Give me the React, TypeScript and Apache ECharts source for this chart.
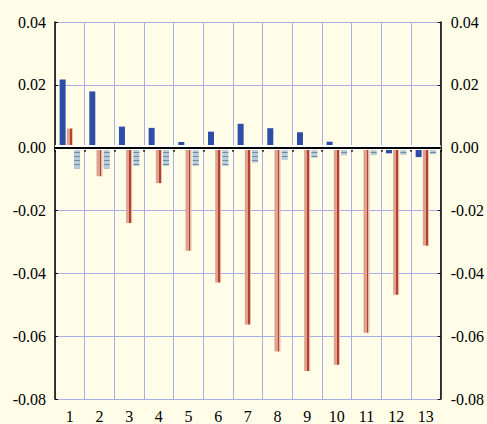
import React, { useEffect, useRef } from "react";
import * as echarts from "echarts";

const categories = ["1", "2", "3", "4", "5", "6", "7", "8", "9", "10", "11", "12", "13"];
const seriesBlue = [0.0217, 0.0179, 0.0067, 0.0063, 0.0018, 0.0051, 0.0076, 0.0062, 0.0049, 0.0019, 0.0, -0.0018, -0.003];
const seriesSalmon = [0.0061, -0.0091, -0.024, -0.0113, -0.0328, -0.0429, -0.0563, -0.0649, -0.0711, -0.0691, -0.0589, -0.0468, -0.0312];
const seriesStriped = [-0.0066, -0.0066, -0.0058, -0.0058, -0.0058, -0.0058, -0.0048, -0.0039, -0.0032, -0.0024, -0.0024, -0.0023, -0.0021];
const yMin = -0.08;
const yMax = 0.04;
const yStep = 0.02;

const FAMILY = "Liberation Serif";

export default function App() {
  const ref = useRef<HTMLDivElement>(null);
  useEffect(() => {
    if (!ref.current) return;
    const chart = echarts.init(ref.current, null, { renderer: "svg" });
    const font = { fontFamily: FAMILY, fontSize: 16, color: "#000" };
    const yAxisBase = {
      type: "value",
      min: yMin,
      max: yMax,
      interval: yStep,
      axisLine: { show: true, lineStyle: { color: "#000", width: 1.5 } },
      axisTick: { show: true, inside: true, length: 3, lineStyle: { color: "#000" } },
      axisLabel: { ...font, formatter: (v: number) => v.toFixed(2) },
    };
    chart.setOption({
      animation: false,
      backgroundColor: "#FFFDE8",
      textStyle: { fontFamily: FAMILY },
      aria: { enabled: true, decal: { show: true } },
      grid: { left: 55, right: 44, top: 22, bottom: 24, containLabel: false },
      xAxis: {
        type: "category",
        data: categories,
        offset: 2,
        axisLine: { show: true, lineStyle: { color: "#000", width: 1.5 } },
        axisTick: { show: true, length: 4, lineStyle: { color: "#000", width: 1.5 } },
        axisLabel: { ...font, margin: 7 },
        splitLine: { show: true, lineStyle: { color: "#A9AEE6", width: 1 } },
      },
      yAxis: [
        {
          ...yAxisBase,
          position: "left",
          axisLabel: { ...yAxisBase.axisLabel, margin: 9 },
          splitLine: { show: true, lineStyle: { color: "#A9AEE6", width: 1 } },
        },
        {
          ...yAxisBase,
          position: "right",
          axisLabel: { ...yAxisBase.axisLabel, margin: 10 },
          splitLine: { show: false },
        },
      ],
      series: [
        {
          type: "bar",
          data: seriesBlue,
          barWidth: 6,
          barGap: "20%",
          itemStyle: { color: "#2E4DA8", decal: { symbol: "none" } },
          markLine: {
            silent: true,
            symbol: "none",
            label: { show: false },
            z: 10,
            data: [
              { yAxis: 0, lineStyle: { color: "#FFFFFF", width: 5, type: "solid" } },
              { yAxis: 0, lineStyle: { color: "#000000", width: 2.2, type: "solid" } },
            ],
          },
        },
        {
          type: "bar",
          data: seriesSalmon,
          barWidth: 6,
          barGap: "20%",
          itemStyle: {
            decal: { symbol: "none" },
            color: {
              type: "linear",
              x: 0,
              y: 0,
              x2: 1,
              y2: 0,
              colorStops: [
                { offset: 0, color: "#DCA390" },
                { offset: 0.55, color: "#DCA390" },
                { offset: 0.55, color: "#B5402E" },
                { offset: 0.78, color: "#B5402E" },
                { offset: 0.78, color: "#E8B8A8" },
                { offset: 1, color: "#E8B8A8" },
              ],
            },
          },
        },
        {
          type: "bar",
          data: seriesStriped,
          barWidth: 6,
          barGap: "20%",
          itemStyle: {
            color: "#BACAD9",
            decal: {
              symbol: "rect",
              symbolSize: 1,
              color: "#6B8EA6",
              dashArrayX: [1, 0],
              dashArrayY: [1, 3],
              rotation: 0,
            },
          },
        },
      ],
    });
    return () => chart.dispose();
  }, []);
  return (
    <div
      ref={ref}
      style={{ position: "fixed", left: 0, top: 0, width: 487, height: 424 }}
    />
  );
}
